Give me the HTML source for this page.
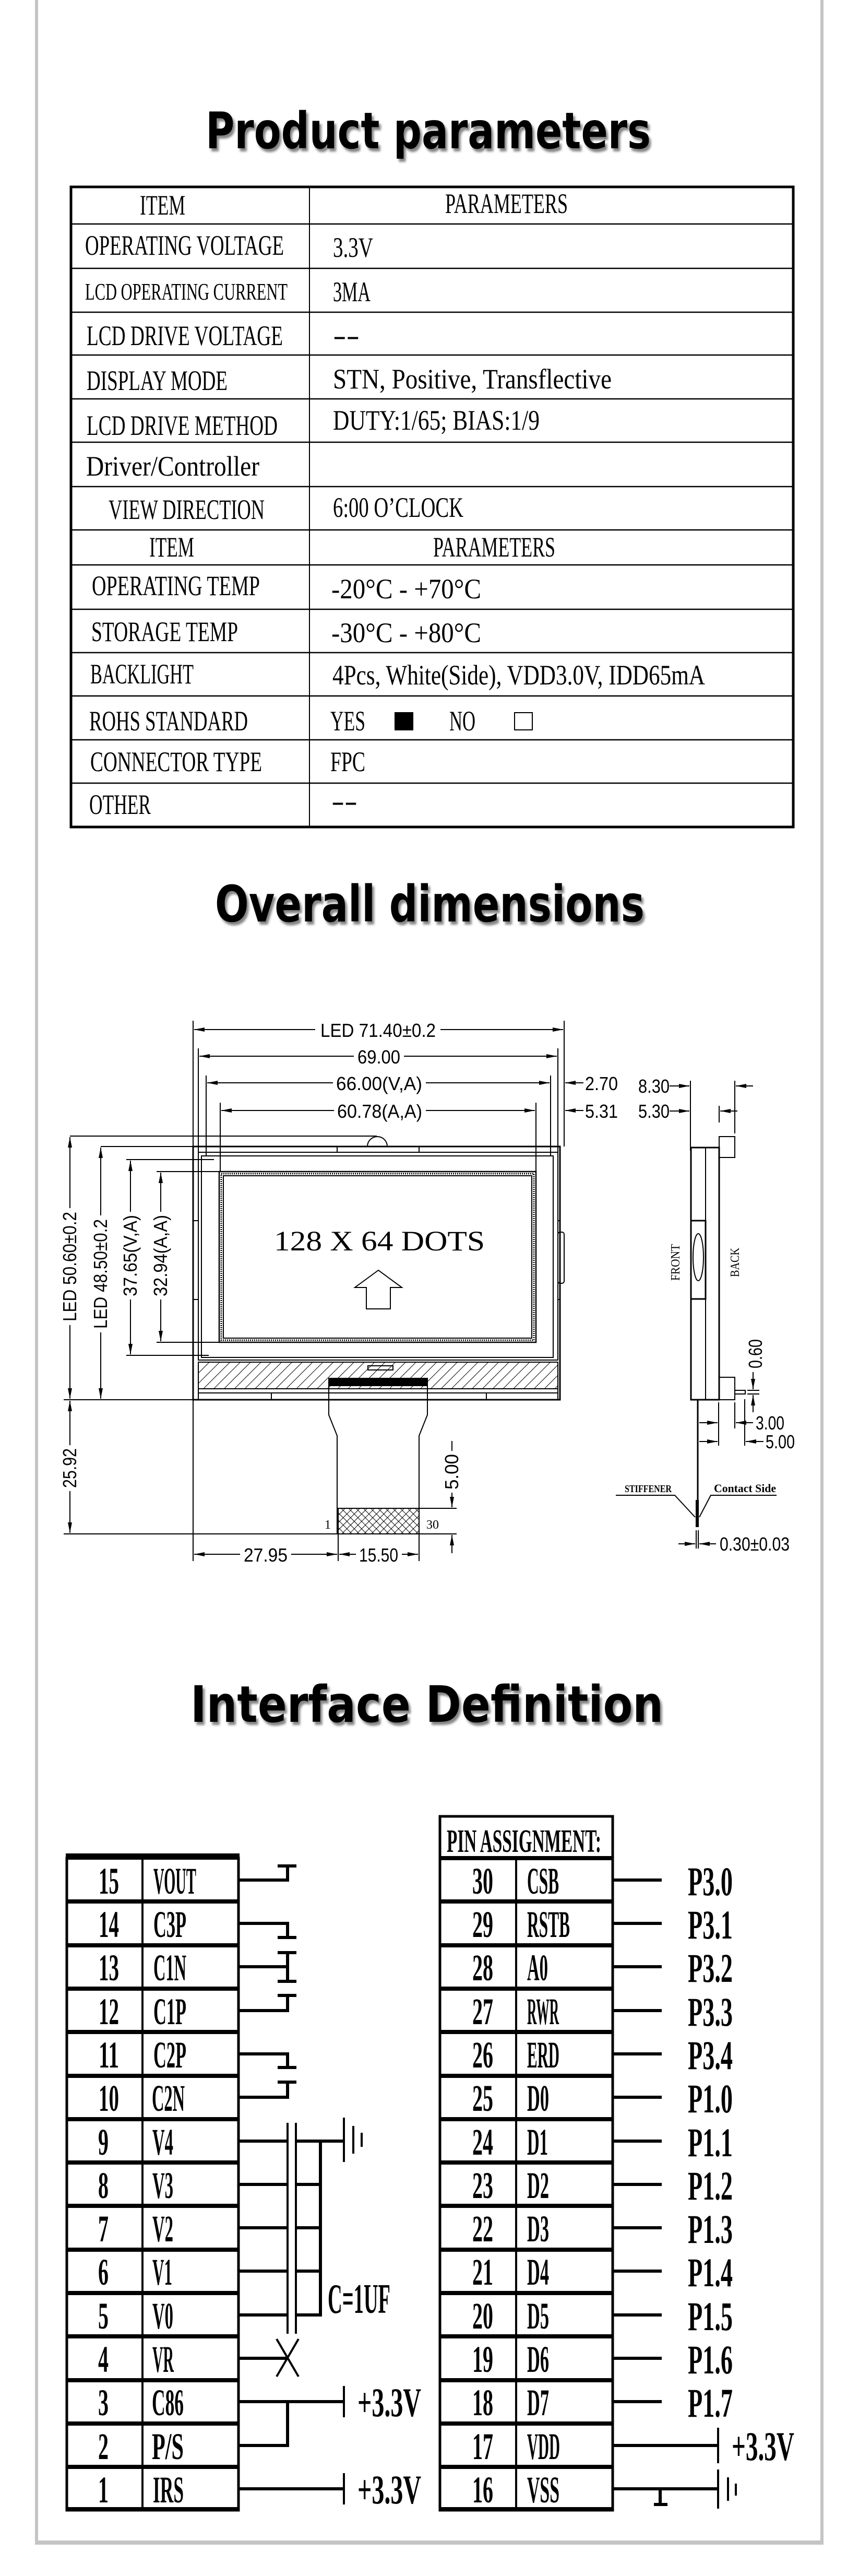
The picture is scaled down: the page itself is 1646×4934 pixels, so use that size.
<!DOCTYPE html>
<html><head><meta charset="utf-8"><style>
html,body{margin:0;padding:0;background:#fff}
svg{display:block}
.t{font-family:"Liberation Serif",serif;font-size:54px;fill:#000}
.d{font-family:"Liberation Sans",sans-serif;font-size:36px;fill:#000}
.p{font-family:"Liberation Serif",serif;font-weight:bold;font-size:72px;fill:#000}
.h{font-family:"DejaVu Sans","Liberation Sans",sans-serif;font-weight:bold;font-size:96px;fill:#000}
</style></head><body>
<svg width="1646" height="4934" viewBox="0 0 1646 4934" xmlns="http://www.w3.org/2000/svg">
<defs>
<marker id="a" viewBox="0 0 20 8" refX="20" refY="4" markerWidth="20" markerHeight="8" markerUnits="userSpaceOnUse" orient="auto-start-reverse"><path d="M0,0 L20,4 L0,8 z" fill="#000"/></marker>
<filter id="sh" x="-5%" y="-20%" width="110%" height="150%"><feDropShadow dx="4" dy="6" stdDeviation="2" flood-color="#666" flood-opacity="0.8"/></filter>
<pattern id="hat" width="14" height="14" patternUnits="userSpaceOnUse" patternTransform="rotate(45)"><line x1="0" y1="0" x2="0" y2="14" stroke="#000" stroke-width="2"/></pattern>
<pattern id="xh" width="10" height="10" patternUnits="userSpaceOnUse" patternTransform="rotate(45)"><path d="M0,0 V10 M0,0 H10" stroke="#000" stroke-width="2"/></pattern>
</defs>
<rect width="1646" height="4934" fill="#fff"/>
<g fill="#c4c4c4"><rect x="67" y="0" width="6" height="4874"/><rect x="1572" y="0" width="6" height="4874"/><rect x="67" y="4866" width="1511" height="8"/></g>

<text class="h" x="394" y="284" textLength="853" lengthAdjust="spacingAndGlyphs" filter="url(#sh)">Product parameters</text>
<g stroke="#000" fill="none">
<rect x="136" y="358" width="1384" height="1226" stroke-width="5"/>
<line x1="593" y1="358" x2="593" y2="1584" stroke-width="2"/>
<g stroke-width="2.5">
<line x1="136" y1="429" x2="1520" y2="429"/><line x1="136" y1="514" x2="1520" y2="514"/>
<line x1="136" y1="598" x2="1520" y2="598"/><line x1="136" y1="680" x2="1520" y2="680"/>
<line x1="136" y1="764" x2="1520" y2="764"/><line x1="136" y1="847" x2="1520" y2="847"/>
<line x1="136" y1="932" x2="1520" y2="932"/><line x1="136" y1="1015" x2="1520" y2="1015"/>
<line x1="136" y1="1082" x2="1520" y2="1082"/><line x1="136" y1="1167" x2="1520" y2="1167"/>
<line x1="136" y1="1250" x2="1520" y2="1250"/><line x1="136" y1="1333" x2="1520" y2="1333"/>
<line x1="136" y1="1417" x2="1520" y2="1417"/><line x1="136" y1="1500" x2="1520" y2="1500"/>
</g></g>
<g class="t">
<text class="t" x="268" y="411" textLength="87" lengthAdjust="spacingAndGlyphs">ITEM</text>
<text class="t" x="853" y="408" textLength="235" lengthAdjust="spacingAndGlyphs">PARAMETERS</text>
<text class="t" x="163" y="488" textLength="381" lengthAdjust="spacingAndGlyphs">OPERATING VOLTAGE</text>
<text class="t" x="638" y="492" textLength="77" lengthAdjust="spacingAndGlyphs">3.3V</text>
<text class="t" x="163" y="574" textLength="388" lengthAdjust="spacingAndGlyphs" style="font-size:46px">LCD OPERATING CURRENT</text>
<text class="t" x="638" y="577" textLength="72" lengthAdjust="spacingAndGlyphs">3MA</text>
<text class="t" x="166" y="661" textLength="376" lengthAdjust="spacingAndGlyphs">LCD DRIVE VOLTAGE</text>
<text class="t" x="638" y="660" textLength="51" lengthAdjust="spacingAndGlyphs">--</text>
<text class="t" x="166" y="747" textLength="270" lengthAdjust="spacingAndGlyphs">DISPLAY MODE</text>
<text class="t" x="638" y="744" textLength="534" lengthAdjust="spacingAndGlyphs">STN, Positive, Transflective</text>
<text class="t" x="166" y="833" textLength="366" lengthAdjust="spacingAndGlyphs">LCD DRIVE METHOD</text>
<text class="t" x="638" y="823" textLength="396" lengthAdjust="spacingAndGlyphs">DUTY:1/65; BIAS:1/9</text>
<text class="t" x="165" y="911" textLength="332" lengthAdjust="spacingAndGlyphs">Driver/Controller</text>
<text class="t" x="208" y="994" textLength="299" lengthAdjust="spacingAndGlyphs">VIEW DIRECTION</text>
<text class="t" x="638" y="990" textLength="250" lengthAdjust="spacingAndGlyphs">6:00 O’CLOCK</text>
<text class="t" x="286" y="1066" textLength="86" lengthAdjust="spacingAndGlyphs">ITEM</text>
<text class="t" x="830" y="1066" textLength="234" lengthAdjust="spacingAndGlyphs">PARAMETERS</text>
<text class="t" x="176" y="1140" textLength="322" lengthAdjust="spacingAndGlyphs">OPERATING TEMP</text>
<text class="t" x="635" y="1146" textLength="287" lengthAdjust="spacingAndGlyphs">-20°C - +70°C</text>
<text class="t" x="175" y="1228" textLength="281" lengthAdjust="spacingAndGlyphs">STORAGE TEMP</text>
<text class="t" x="635" y="1230" textLength="287" lengthAdjust="spacingAndGlyphs">-30°C - +80°C</text>
<text class="t" x="173" y="1309" textLength="198" lengthAdjust="spacingAndGlyphs">BACKLIGHT</text>
<text class="t" x="637" y="1311" textLength="714" lengthAdjust="spacingAndGlyphs">4Pcs, White(Side), VDD3.0V, IDD65mA</text>
<text class="t" x="171" y="1399" textLength="304" lengthAdjust="spacingAndGlyphs">ROHS STANDARD</text>
<text class="t" x="633" y="1399" textLength="67" lengthAdjust="spacingAndGlyphs">YES</text>
<text class="t" x="861" y="1399" textLength="50" lengthAdjust="spacingAndGlyphs">NO</text>
<text class="t" x="173" y="1477" textLength="329" lengthAdjust="spacingAndGlyphs">CONNECTOR TYPE</text>
<text class="t" x="633" y="1477" textLength="67" lengthAdjust="spacingAndGlyphs">FPC</text>
<text class="t" x="171" y="1559" textLength="118" lengthAdjust="spacingAndGlyphs">OTHER</text>
<text class="t" x="635" y="1552" textLength="50" lengthAdjust="spacingAndGlyphs">--</text>
</g>
<rect x="756" y="1364" width="36" height="35" fill="#000"/>
<rect x="986" y="1365" width="34" height="33" fill="none" stroke="#000" stroke-width="2"/>

<text class="h" x="412" y="1765" textLength="823" lengthAdjust="spacingAndGlyphs" filter="url(#sh)">Overall dimensions</text>
<g stroke="#000" stroke-width="2" fill="none">
<line x1="370" y1="1955" x2="370" y2="2990"/>
<line x1="1081" y1="1955" x2="1081" y2="2196"/>
<line x1="380" y1="2008" x2="380" y2="2207"/><line x1="1069" y1="2008" x2="1069" y2="2207"/>
<line x1="395" y1="2060" x2="395" y2="2214"/><line x1="1055" y1="2060" x2="1055" y2="2214"/>
<line x1="422" y1="2112" x2="422" y2="2244"/><line x1="1027" y1="2112" x2="1027" y2="2244"/>
<line x1="372" y1="1972" x2="1079" y2="1972" marker-start="url(#a)" marker-end="url(#a)"/>
<line x1="382" y1="2023" x2="1067" y2="2023" marker-start="url(#a)" marker-end="url(#a)"/>
<line x1="397" y1="2074" x2="1053" y2="2074" marker-start="url(#a)" marker-end="url(#a)"/>
<line x1="424" y1="2127" x2="1025" y2="2127" marker-start="url(#a)" marker-end="url(#a)"/>
<line x1="1118" y1="2074" x2="1083" y2="2074" marker-end="url(#a)"/>
<line x1="1118" y1="2127" x2="1083" y2="2127" marker-end="url(#a)"/>
<rect x="370" y="2196" width="703" height="485" stroke-width="3"/>
<rect x="380" y="2207" width="689" height="398"/>
<rect x="386" y="2214" width="674" height="386"/>
<rect x="420" y="2244" width="607" height="327" stroke-width="2.5"/>
<rect x="424" y="2248" width="599" height="319" stroke-dasharray="2 2" stroke-width="3"/>
<rect x="428" y="2252" width="591" height="311"/>
<rect x="646" y="2196" width="157" height="11"/>
<path d="M704,2196 A19,19 0 0 1 742,2196"/>
<line x1="134" y1="2176" x2="722" y2="2176"/>
<line x1="193" y1="2196" x2="370" y2="2196"/>
<line x1="242" y1="2221" x2="410" y2="2221"/><line x1="242" y1="2596" x2="400" y2="2596"/>
<line x1="300" y1="2244" x2="420" y2="2244"/><line x1="300" y1="2571" x2="420" y2="2571"/>
<rect x="370" y="2338" width="10" height="151"/>
<rect x="1069" y="2360" width="12" height="98" rx="4"/>
<line x1="1069" y1="2338" x2="1073" y2="2338"/><line x1="1069" y1="2489" x2="1073" y2="2489"/>
<rect x="380" y="2609" width="689" height="51" fill="url(#hat)"/>
<rect x="380" y="2660" width="689" height="8"/>
<rect x="705" y="2616" width="48" height="8"/>
<rect x="630" y="2640" width="189" height="14" fill="#000"/>
<rect x="380" y="2668" width="140" height="13"/><rect x="932" y="2668" width="137" height="13"/>
<path d="M630,2654 V2710 L646,2750 V2938 H803 V2750 L819,2710 V2654"/>
<rect x="648" y="2889" width="155" height="49" fill="url(#xh)"/>
<line x1="122" y1="2681" x2="370" y2="2681"/>
<line x1="122" y1="2938" x2="648" y2="2938"/>
<line x1="134" y1="2178" x2="134" y2="2679" marker-start="url(#a)" marker-end="url(#a)"/>
<line x1="193" y1="2198" x2="193" y2="2679" marker-start="url(#a)" marker-end="url(#a)"/>
<line x1="250" y1="2223" x2="250" y2="2594" marker-start="url(#a)" marker-end="url(#a)"/>
<line x1="308" y1="2246" x2="308" y2="2569" marker-start="url(#a)" marker-end="url(#a)"/>
<line x1="134" y1="2683" x2="134" y2="2936" marker-start="url(#a)" marker-end="url(#a)"/>
<line x1="803" y1="2889" x2="875" y2="2889"/><line x1="803" y1="2938" x2="875" y2="2938"/>
<line x1="866" y1="2760" x2="866" y2="2887" marker-end="url(#a)"/>
<line x1="866" y1="2975" x2="866" y2="2940" marker-end="url(#a)"/>
<line x1="648" y1="2938" x2="648" y2="2990"/><line x1="803" y1="2938" x2="803" y2="2990"/>
<line x1="372" y1="2977" x2="646" y2="2977" marker-start="url(#a)" marker-end="url(#a)"/>
<line x1="650" y1="2977" x2="801" y2="2977" marker-start="url(#a)" marker-end="url(#a)"/>
<path d="M725,2433 L680,2466 H702 V2507 H748 V2466 H770 Z"/>
<line x1="1323" y1="2070" x2="1323" y2="2204"/>
<line x1="1408" y1="2070" x2="1408" y2="2171"/>
<line x1="1378" y1="2118" x2="1378" y2="2150"/>
<line x1="1283" y1="2080" x2="1321" y2="2080" marker-end="url(#a)"/>
<line x1="1443" y1="2080" x2="1410" y2="2080" marker-end="url(#a)"/>
<line x1="1283" y1="2128" x2="1321" y2="2128" marker-end="url(#a)"/>
<line x1="1413" y1="2128" x2="1380" y2="2128" marker-end="url(#a)"/>
<rect x="1324" y="2198" width="54" height="483" stroke-width="3"/>
<line x1="1352" y1="2198" x2="1352" y2="2681"/>
<rect x="1378" y="2177" width="30" height="40"/>
<rect x="1378" y="2638" width="30" height="43"/>
<rect x="1408" y="2663" width="20" height="7"/>
<rect x="1324" y="2338" width="28" height="150" stroke-width="3"/>
<ellipse cx="1338" cy="2408" rx="10" ry="45"/>
<line x1="1337" y1="2681" x2="1337" y2="2925" stroke-width="3"/>
<rect x="1334" y="2874" width="4" height="50" fill="#000"/>
<line x1="1377" y1="2686" x2="1377" y2="2769"/><line x1="1408" y1="2686" x2="1408" y2="2736"/>
<line x1="1427" y1="2680" x2="1427" y2="2769"/>
<line x1="1340" y1="2725" x2="1375" y2="2725" marker-end="url(#a)"/>
<line x1="1443" y1="2725" x2="1410" y2="2725" marker-end="url(#a)"/>
<line x1="1340" y1="2761" x2="1375" y2="2761" marker-end="url(#a)"/>
<line x1="1463" y1="2761" x2="1429" y2="2761" marker-end="url(#a)"/>
<line x1="1432" y1="2663" x2="1455" y2="2663"/><line x1="1432" y1="2670" x2="1455" y2="2670"/>
<line x1="1443" y1="2628" x2="1443" y2="2661" marker-end="url(#a)"/>
<line x1="1443" y1="2705" x2="1443" y2="2672" marker-end="url(#a)"/>
<path d="M1180,2864 H1293 L1332,2906"/><path d="M1488,2864 H1362 L1340,2906"/>
<line x1="1334" y1="2931" x2="1334" y2="2966"/><line x1="1338" y1="2931" x2="1338" y2="2966"/>
<line x1="1300" y1="2957" x2="1332" y2="2957" marker-end="url(#a)"/>
<line x1="1372" y1="2957" x2="1340" y2="2957" marker-end="url(#a)"/>
</g>
<g class="d">
<rect x="604" y="1950" width="240" height="44" fill="#fff"/>
<text x="614" y="1986" textLength="221" lengthAdjust="spacingAndGlyphs">LED 71.40±0.2</text>
<rect x="678" y="2002" width="96" height="44" fill="#fff"/>
<text x="685" y="2037" textLength="82" lengthAdjust="spacingAndGlyphs">69.00</text>
<rect x="638" y="2053" width="178" height="44" fill="#fff"/>
<text x="644" y="2088" textLength="165" lengthAdjust="spacingAndGlyphs">66.00(V,A)</text>
<rect x="640" y="2106" width="176" height="44" fill="#fff"/>
<text x="646" y="2141" textLength="163" lengthAdjust="spacingAndGlyphs">60.78(A,A)</text>
<text x="1121" y="2088" textLength="63" lengthAdjust="spacingAndGlyphs">2.70</text>
<text x="1121" y="2141" textLength="63" lengthAdjust="spacingAndGlyphs">5.31</text>
<rect x="460" y="2956" width="98" height="44" fill="#fff"/>
<text x="467" y="2991" textLength="84" lengthAdjust="spacingAndGlyphs">27.95</text>
<rect x="682" y="2956" width="88" height="44" fill="#fff"/>
<text x="688" y="2991" textLength="75" lengthAdjust="spacingAndGlyphs">15.50</text>
<g transform="translate(146,2426) rotate(-90)"><rect x="-112" y="-34" width="224" height="44" fill="#fff"/><text x="-105" y="0" textLength="210" lengthAdjust="spacingAndGlyphs">LED 50.60±0.2</text></g>
<g transform="translate(205,2440) rotate(-90)"><rect x="-112" y="-34" width="224" height="44" fill="#fff"/><text x="-105" y="0" textLength="210" lengthAdjust="spacingAndGlyphs">LED 48.50±0.2</text></g>
<g transform="translate(262,2405) rotate(-90)"><rect x="-84" y="-34" width="168" height="44" fill="#fff"/><text x="-78" y="0" textLength="156" lengthAdjust="spacingAndGlyphs">37.65(V,A)</text></g>
<g transform="translate(320,2405) rotate(-90)"><rect x="-84" y="-34" width="168" height="44" fill="#fff"/><text x="-78" y="0" textLength="156" lengthAdjust="spacingAndGlyphs">32.94(A,A)</text></g>
<g transform="translate(146,2812) rotate(-90)"><rect x="-44" y="-34" width="88" height="44" fill="#fff"/><text x="-38" y="0" textLength="76" lengthAdjust="spacingAndGlyphs">25.92</text></g>
<g transform="translate(878,2819) rotate(-90)"><rect x="-40" y="-34" width="80" height="44" fill="#fff"/><text x="-34" y="0" textLength="68" lengthAdjust="spacingAndGlyphs">5.00</text></g>
<text x="1223" y="2093" textLength="60" lengthAdjust="spacingAndGlyphs">8.30</text>
<text x="1223" y="2141" textLength="60" lengthAdjust="spacingAndGlyphs">5.30</text>
<text x="1448" y="2738" textLength="55" lengthAdjust="spacingAndGlyphs">3.00</text>
<text x="1467" y="2774" textLength="56" lengthAdjust="spacingAndGlyphs">5.00</text>
<text x="1379" y="2970" textLength="134" lengthAdjust="spacingAndGlyphs">0.30±0.03</text>
<g transform="translate(1460,2593) rotate(-90)"><text x="-28" y="0" textLength="56" lengthAdjust="spacingAndGlyphs">0.60</text></g>
</g>
<g style="font-family:'Liberation Serif',serif;fill:#000">
<text x="525" y="2395" style="font-size:54px" textLength="404" lengthAdjust="spacingAndGlyphs">128 X 64 DOTS</text>
<text x="622" y="2928" style="font-size:24px">1</text>
<text x="817" y="2928" style="font-size:24px">30</text>
<g transform="translate(1302,2418) rotate(-90)"><text x="-35" y="0" style="font-size:24px" textLength="70" lengthAdjust="spacingAndGlyphs">FRONT</text></g>
<g transform="translate(1416,2418) rotate(-90)"><text x="-28" y="0" style="font-size:24px" textLength="56" lengthAdjust="spacingAndGlyphs">BACK</text></g>
<text x="1197" y="2858" style="font-size:20px;font-weight:bold" textLength="90" lengthAdjust="spacingAndGlyphs">STIFFENER</text>
<text x="1368" y="2858" style="font-size:22px;font-weight:bold" textLength="119" lengthAdjust="spacingAndGlyphs">Contact Side</text>
</g>

<text class="h" x="365" y="3298" textLength="906" lengthAdjust="spacingAndGlyphs" filter="url(#sh)">Interface Definition</text>
<g stroke="#000" fill="none">
<rect x="128" y="3559" width="329" height="1249" stroke-width="5"/>
<line x1="273" y1="3559" x2="273" y2="4808" stroke-width="4"/>
<line x1="126" y1="3556" x2="459" y2="3556" stroke-width="12"/>
<g stroke-width="8">
<line x1="128" y1="3642" x2="457" y2="3642"/><line x1="128" y1="3726" x2="457" y2="3726"/>
<line x1="128" y1="3809" x2="457" y2="3809"/><line x1="128" y1="3892" x2="457" y2="3892"/>
<line x1="128" y1="3976" x2="457" y2="3976"/><line x1="128" y1="4059" x2="457" y2="4059"/>
<line x1="128" y1="4142" x2="457" y2="4142"/><line x1="128" y1="4225" x2="457" y2="4225"/>
<line x1="128" y1="4309" x2="457" y2="4309"/><line x1="128" y1="4392" x2="457" y2="4392"/>
<line x1="128" y1="4475" x2="457" y2="4475"/><line x1="128" y1="4559" x2="457" y2="4559"/>
<line x1="128" y1="4642" x2="457" y2="4642"/><line x1="128" y1="4725" x2="457" y2="4725"/>
<line x1="126" y1="4806" x2="459" y2="4806"/>
</g>
<rect x="843" y="3479" width="331" height="1329" stroke-width="5"/>
<line x1="989" y1="3559" x2="989" y2="4808" stroke-width="4"/>
<g stroke-width="8">
<line x1="843" y1="3559" x2="1174" y2="3559"/>
<line x1="843" y1="3642" x2="1174" y2="3642"/><line x1="843" y1="3726" x2="1174" y2="3726"/>
<line x1="843" y1="3809" x2="1174" y2="3809"/><line x1="843" y1="3892" x2="1174" y2="3892"/>
<line x1="843" y1="3976" x2="1174" y2="3976"/><line x1="843" y1="4059" x2="1174" y2="4059"/>
<line x1="843" y1="4142" x2="1174" y2="4142"/><line x1="843" y1="4225" x2="1174" y2="4225"/>
<line x1="843" y1="4309" x2="1174" y2="4309"/><line x1="843" y1="4392" x2="1174" y2="4392"/>
<line x1="843" y1="4475" x2="1174" y2="4475"/><line x1="843" y1="4559" x2="1174" y2="4559"/>
<line x1="843" y1="4642" x2="1174" y2="4642"/><line x1="843" y1="4725" x2="1174" y2="4725"/>
<line x1="841" y1="4806" x2="1176" y2="4806"/>
</g>
<g stroke-width="6">
<path d="M457,3601 H551 V3574 M532,3574 H568"/>
<path d="M457,3684 H551 V3711 M532,3711 H568"/>
<path d="M457,3767 H551 M551,3740 V3795 M532,3740 H568 M532,3795 H568"/>
<path d="M457,3851 H551 V3822 M532,3822 H568"/>
<path d="M457,3934 H551 V3960 M532,3960 H568"/>
<path d="M457,4017 H551 V3988 M532,3988 H568"/>
<path d="M457,4101 H551 M567,4101 H659"/>
<path d="M457,4184 H551 M567,4184 H614"/>
<path d="M457,4267 H551 M567,4267 H614"/>
<path d="M457,4350 H551 M567,4350 H614"/>
<path d="M457,4434 H551 M567,4434 H614"/>
<path d="M614,4098 V4437"/>
<path d="M457,4517 H551"/>
<path d="M457,4600 H659"/>
<path d="M457,4684 H551 V4600"/>
<path d="M457,4767 H659"/>
</g>
<g stroke-width="4">
<path d="M551,4066 V4470 M567,4066 V4470"/>
<path d="M659,4056 V4141 M677,4072 V4125 M693,4085 V4112"/>
<path d="M530,4480 L572,4552 M572,4480 L530,4552"/>
<path d="M659,4570 V4630 M659,4737 V4797"/>
</g>
<g stroke-width="6">
<path d="M1174,3601 H1268 M1174,3684 H1268 M1174,3767 H1268 M1174,3851 H1268 M1174,3934 H1268 M1174,4017 H1268 M1174,4101 H1268 M1174,4184 H1268 M1174,4267 H1268 M1174,4350 H1268 M1174,4434 H1268 M1174,4517 H1268 M1174,4600 H1268"/>
<path d="M1174,4684 H1376 M1174,4767 H1376 M1265,4767 V4795 M1253,4797 H1279"/>
</g>
<g stroke-width="4">
<path d="M1376,4650 V4718 M1376,4730 V4805 M1395,4745 V4790 M1410,4757 V4780"/>
</g>
</g>
<g class="p">
<text x="856" y="3547" style="font-size:62px" textLength="296" lengthAdjust="spacingAndGlyphs">PIN ASSIGNMENT:</text>
<text x="189" y="3627" textLength="39" lengthAdjust="spacingAndGlyphs">15</text>
<text x="189" y="3710" textLength="39" lengthAdjust="spacingAndGlyphs">14</text>
<text x="189" y="3793" textLength="39" lengthAdjust="spacingAndGlyphs">13</text>
<text x="189" y="3877" textLength="39" lengthAdjust="spacingAndGlyphs">12</text>
<text x="189" y="3960" textLength="39" lengthAdjust="spacingAndGlyphs">11</text>
<text x="189" y="4043" textLength="39" lengthAdjust="spacingAndGlyphs">10</text>
<text x="188" y="4127" textLength="20" lengthAdjust="spacingAndGlyphs">9</text>
<text x="188" y="4210" textLength="20" lengthAdjust="spacingAndGlyphs">8</text>
<text x="188" y="4293" textLength="20" lengthAdjust="spacingAndGlyphs">7</text>
<text x="188" y="4376" textLength="20" lengthAdjust="spacingAndGlyphs">6</text>
<text x="188" y="4460" textLength="20" lengthAdjust="spacingAndGlyphs">5</text>
<text x="188" y="4543" textLength="20" lengthAdjust="spacingAndGlyphs">4</text>
<text x="188" y="4626" textLength="20" lengthAdjust="spacingAndGlyphs">3</text>
<text x="188" y="4710" textLength="20" lengthAdjust="spacingAndGlyphs">2</text>
<text x="188" y="4793" textLength="20" lengthAdjust="spacingAndGlyphs">1</text>
<text x="294" y="3627" textLength="82" lengthAdjust="spacingAndGlyphs">VOUT</text>
<text x="294" y="3710" textLength="63" lengthAdjust="spacingAndGlyphs">C3P</text>
<text x="294" y="3793" textLength="63" lengthAdjust="spacingAndGlyphs">C1N</text>
<text x="294" y="3877" textLength="63" lengthAdjust="spacingAndGlyphs">C1P</text>
<text x="294" y="3960" textLength="63" lengthAdjust="spacingAndGlyphs">C2P</text>
<text x="291" y="4043" textLength="63" lengthAdjust="spacingAndGlyphs">C2N</text>
<text x="292" y="4127" textLength="40" lengthAdjust="spacingAndGlyphs">V4</text>
<text x="292" y="4210" textLength="40" lengthAdjust="spacingAndGlyphs">V3</text>
<text x="292" y="4293" textLength="40" lengthAdjust="spacingAndGlyphs">V2</text>
<text x="292" y="4376" textLength="38" lengthAdjust="spacingAndGlyphs">V1</text>
<text x="292" y="4460" textLength="40" lengthAdjust="spacingAndGlyphs">V0</text>
<text x="292" y="4543" textLength="41" lengthAdjust="spacingAndGlyphs">VR</text>
<text x="291" y="4626" textLength="61" lengthAdjust="spacingAndGlyphs">C86</text>
<text x="291" y="4710" textLength="61" lengthAdjust="spacingAndGlyphs">P/S</text>
<text x="293" y="4793" textLength="59" lengthAdjust="spacingAndGlyphs">IRS</text>
<text x="905" y="3627" textLength="40" lengthAdjust="spacingAndGlyphs">30</text>
<text x="905" y="3710" textLength="40" lengthAdjust="spacingAndGlyphs">29</text>
<text x="905" y="3793" textLength="40" lengthAdjust="spacingAndGlyphs">28</text>
<text x="905" y="3877" textLength="40" lengthAdjust="spacingAndGlyphs">27</text>
<text x="905" y="3960" textLength="40" lengthAdjust="spacingAndGlyphs">26</text>
<text x="905" y="4043" textLength="40" lengthAdjust="spacingAndGlyphs">25</text>
<text x="905" y="4127" textLength="40" lengthAdjust="spacingAndGlyphs">24</text>
<text x="905" y="4210" textLength="40" lengthAdjust="spacingAndGlyphs">23</text>
<text x="905" y="4293" textLength="40" lengthAdjust="spacingAndGlyphs">22</text>
<text x="905" y="4376" textLength="40" lengthAdjust="spacingAndGlyphs">21</text>
<text x="905" y="4460" textLength="40" lengthAdjust="spacingAndGlyphs">20</text>
<text x="905" y="4543" textLength="40" lengthAdjust="spacingAndGlyphs">19</text>
<text x="905" y="4626" textLength="40" lengthAdjust="spacingAndGlyphs">18</text>
<text x="905" y="4710" textLength="40" lengthAdjust="spacingAndGlyphs">17</text>
<text x="905" y="4793" textLength="40" lengthAdjust="spacingAndGlyphs">16</text>
<text x="1010" y="3627" textLength="61" lengthAdjust="spacingAndGlyphs">CSB</text>
<text x="1010" y="3710" textLength="82" lengthAdjust="spacingAndGlyphs">RSTB</text>
<text x="1010" y="3793" textLength="40" lengthAdjust="spacingAndGlyphs">A0</text>
<text x="1010" y="3877" textLength="61" lengthAdjust="spacingAndGlyphs">RWR</text>
<text x="1010" y="3960" textLength="62" lengthAdjust="spacingAndGlyphs">ERD</text>
<text x="1010" y="4043" textLength="42" lengthAdjust="spacingAndGlyphs">D0</text>
<text x="1010" y="4127" textLength="40" lengthAdjust="spacingAndGlyphs">D1</text>
<text x="1010" y="4210" textLength="42" lengthAdjust="spacingAndGlyphs">D2</text>
<text x="1010" y="4293" textLength="42" lengthAdjust="spacingAndGlyphs">D3</text>
<text x="1010" y="4376" textLength="42" lengthAdjust="spacingAndGlyphs">D4</text>
<text x="1010" y="4460" textLength="42" lengthAdjust="spacingAndGlyphs">D5</text>
<text x="1010" y="4543" textLength="42" lengthAdjust="spacingAndGlyphs">D6</text>
<text x="1010" y="4626" textLength="42" lengthAdjust="spacingAndGlyphs">D7</text>
<text x="1010" y="4710" textLength="63" lengthAdjust="spacingAndGlyphs">VDD</text>
<text x="1010" y="4793" textLength="62" lengthAdjust="spacingAndGlyphs">VSS</text>
<text x="1318" y="3630" style="font-size:78px" textLength="86" lengthAdjust="spacingAndGlyphs">P3.0</text>
<text x="1318" y="3713" style="font-size:78px" textLength="86" lengthAdjust="spacingAndGlyphs">P3.1</text>
<text x="1318" y="3796" style="font-size:78px" textLength="86" lengthAdjust="spacingAndGlyphs">P3.2</text>
<text x="1318" y="3880" style="font-size:78px" textLength="86" lengthAdjust="spacingAndGlyphs">P3.3</text>
<text x="1318" y="3963" style="font-size:78px" textLength="86" lengthAdjust="spacingAndGlyphs">P3.4</text>
<text x="1318" y="4046" style="font-size:78px" textLength="86" lengthAdjust="spacingAndGlyphs">P1.0</text>
<text x="1318" y="4130" style="font-size:78px" textLength="86" lengthAdjust="spacingAndGlyphs">P1.1</text>
<text x="1318" y="4213" style="font-size:78px" textLength="86" lengthAdjust="spacingAndGlyphs">P1.2</text>
<text x="1318" y="4296" style="font-size:78px" textLength="86" lengthAdjust="spacingAndGlyphs">P1.3</text>
<text x="1318" y="4379" style="font-size:78px" textLength="86" lengthAdjust="spacingAndGlyphs">P1.4</text>
<text x="1318" y="4463" style="font-size:78px" textLength="86" lengthAdjust="spacingAndGlyphs">P1.5</text>
<text x="1318" y="4546" style="font-size:78px" textLength="86" lengthAdjust="spacingAndGlyphs">P1.6</text>
<text x="1318" y="4629" style="font-size:78px" textLength="86" lengthAdjust="spacingAndGlyphs">P1.7</text>
<text x="1402" y="4712" style="font-size:78px" textLength="120" lengthAdjust="spacingAndGlyphs">+3.3V</text>
<text x="685" y="4628" style="font-size:78px" textLength="122" lengthAdjust="spacingAndGlyphs">+3.3V</text>
<text x="685" y="4795" style="font-size:78px" textLength="122" lengthAdjust="spacingAndGlyphs">+3.3V</text>
<text x="628" y="4430" style="font-size:80px" textLength="120" lengthAdjust="spacingAndGlyphs">C=1UF</text>
</g>
</svg>
</body></html>
